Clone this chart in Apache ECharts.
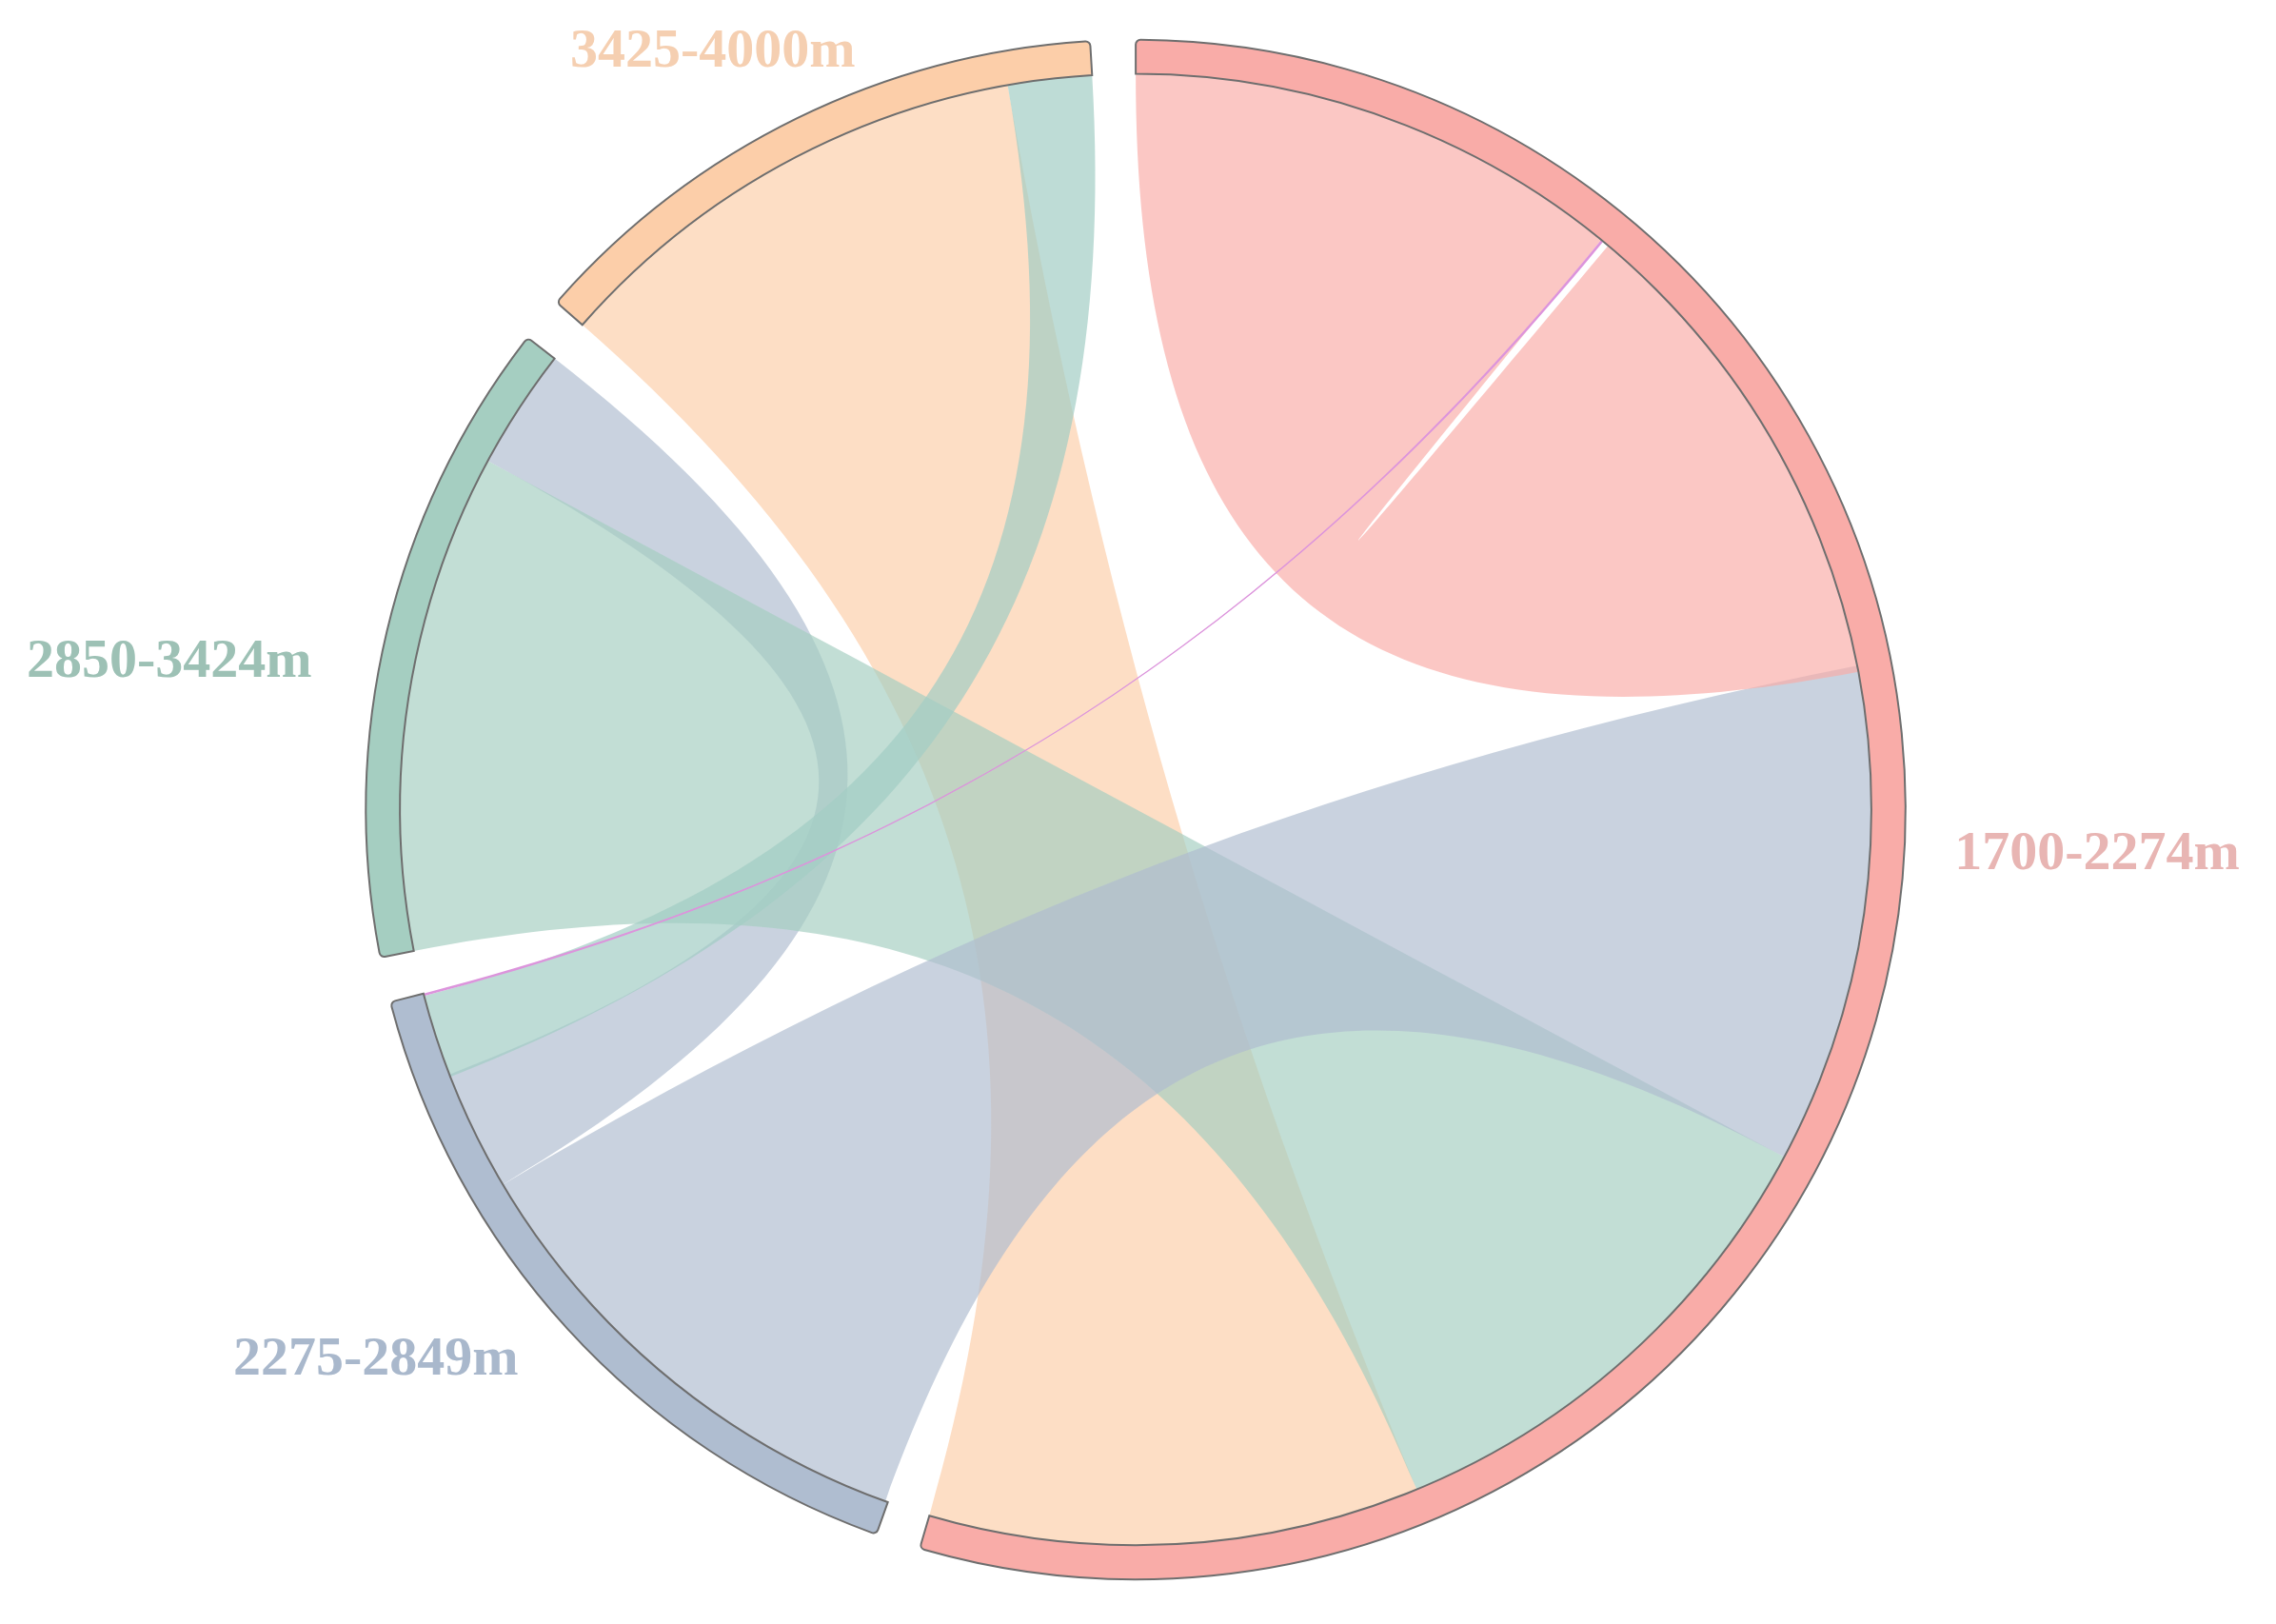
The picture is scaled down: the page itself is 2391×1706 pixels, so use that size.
<!DOCTYPE html>
<html>
<head>
<meta charset="utf-8">
<script src="https://cdn.jsdelivr.net/npm/echarts@6.0.0/dist/echarts.min.js"></script>
<style>
  html, body { margin: 0; padding: 0; background: #fff; }
  #chart-chord { width: 2391px; height: 1706px; }
</style>
</head>
<body>
<div id="chart-chord"></div>
<script>
// depth classes, in layout order (counter-clockwise, starting from the end of the red arc)
var depthNames = ['1700-2274m', '3425-4000m', '2850-3424m', '2275-2849m'];
var ringColors = ['#f9aca8', '#fccea9', '#a5cec1', '#afbdd0'];
var labelColors = ['#e8b5b3', '#f5cfb1', '#9dc1b5', '#a9b8cc'];
var labelShift = [[15, -102], [81, 0], [-35, 72], [-18, -26]];

// links between depth classes (the source gives the ribbon colour)
var linkSources = ['2275-2849m', '2275-2849m', '3425-4000m', '2850-3424m', '2275-2849m', '1700-2274m', '1700-2274m'];
var linkTargets = ['3425-4000m', '2850-3424m', '1700-2274m', '1700-2274m', '1700-2274m', '2275-2849m', '1700-2274m'];
var linkValues = [6.6, 9.5, 38.6, 39.2, 39.3, 0.2, 39.1];
// the last three are drawn by the overlay series (other colours / two-ended self flow)
var linkOpacity = [0, 0.68, 0.68, 0.68, 0.68, 0, 0];

var padA = 3.4;
var padB = 0.5;

var chartDom = document.getElementById('chart-chord');
var myChart = echarts.init(chartDom);
var option;

// node totals as the chord layout counts them (a self link counts at both ends)
var totals = depthNames.map(function (name) {
    var t = 0;
    linkValues.forEach(function (v, i) {
        if (linkSources[i] === name) t += v;
        if (linkTargets[i] === name) t += v;
    });
    return t;
});
var totalSum = totals.reduce(function (a, b) { return a + b; }, 0);
var scale = (360 - depthNames.length * padA) / totalSum;

// clockwise angles from the top, used to line the overlay up with the main ring
var tealValue = linkValues[0];
var magentaValue = linkValues[5];
var selfFlow = linkValues[6];
var blueEnd = 360 - 3 * padA - (totals[1] + totals[2]) * scale;
var orangeEnd = 360 - padA;
var inEnd = (selfFlow + magentaValue) * scale + padB + selfFlow * scale;
var blueTopStart = blueEnd - (tealValue + magentaValue) * scale;
var orangeTopStart = orangeEnd - tealValue * scale;
var spacer1 = (blueTopStart - padB - (inEnd + padB)) / scale;
var spacer2 = (orangeTopStart - padB - (blueEnd + padB)) / scale;
var spacer3 = (360 - padB - (orangeEnd + padB)) / scale;

var nodes = depthNames.map(function (name, i) {
    return {
        name: name,
        itemStyle: { color: ringColors[i] },
        label: { color: labelColors[i] }
    };
});

var links = linkValues.map(function (v, i) {
    return {
        source: linkSources[i],
        target: linkTargets[i],
        value: v,
        lineStyle: { opacity: linkOpacity[i] }
    };
});

var overlayNodes = [
    { name: 'out', itemStyle: { color: '#dc94dc' } },
    { name: 'in', itemStyle: { color: ringColors[0] } },
    { name: 'spacer1', itemStyle: { color: '#fff' } },
    { name: 'blueTop', itemStyle: { color: '#a2cdc4' } },
    { name: 'spacer2', itemStyle: { color: '#fff' } },
    { name: 'orangeTop', itemStyle: { color: '#fff' } },
    { name: 'spacer3', itemStyle: { color: '#fff' } }
];
var overlayLinks = [
    { source: 'in', target: 'out', value: selfFlow, lineStyle: { opacity: 0.68 } },
    { source: 'blueTop', target: 'orangeTop', value: tealValue, lineStyle: { opacity: 0.7 } },
    { source: 'out', target: 'blueTop', value: magentaValue, lineStyle: { opacity: 1 } },
    { source: 'spacer1', target: 'spacer1', value: spacer1 / 2, lineStyle: { opacity: 0 } },
    { source: 'spacer2', target: 'spacer2', value: spacer2 / 2, lineStyle: { opacity: 0 } },
    { source: 'spacer3', target: 'spacer3', value: spacer3 / 2, lineStyle: { opacity: 0 } }
];

option = {
    animation: false,
    series: [
        {
            type: 'chord',
            center: ['49.9%', '49.85%'],
            radius: ['90.6%', '94.8%'],
            startAngle: 90 - totals[0] * scale,
            clockwise: false,
            padAngle: padA,
            itemStyle: {
                borderColor: '#6e6e6e',
                borderWidth: 2
            },
            lineStyle: {
                color: 'source',
                opacity: 0.68
            },
            label: {
                show: true,
                position: 'outside',
                distance: 45,
                fontSize: 58,
                fontWeight: 'bold',
                fontFamily: 'Liberation Serif'
            },
            labelLayout: function (params) {
                var s = labelShift[params.dataIndex] || [0, 0];
                return { dx: s[0], dy: s[1] };
            },
            data: nodes,
            links: links
        },
        {
            type: 'chord',
            silent: true,
            center: ['49.9%', '49.85%'],
            radius: ['90.6%', '90.6%'],
            startAngle: 90,
            clockwise: true,
            padAngle: padB,
            itemStyle: { opacity: 0, borderWidth: 0 },
            lineStyle: { color: 'source' },
            label: { show: false },
            data: overlayNodes,
            links: overlayLinks
        }
    ]
};

option && myChart.setOption(option);
</script>
</body>
</html>
